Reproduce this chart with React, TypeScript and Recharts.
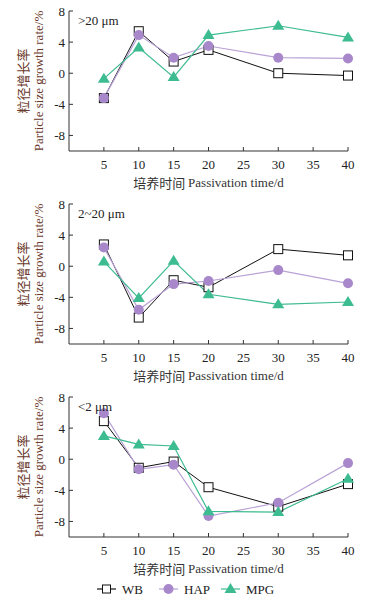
import React from "react";
import { LineChart, Line, XAxis, YAxis } from "recharts";

const days = [5, 10, 15, 20, 30, 40];
const xTicks = [5, 10, 15, 20, 25, 30, 35, 40];
const yTicks = [-8, -4, 0, 4, 8];

const panelLabels = [">20 μm", "2~20 μm", "<2 μm"];

const wbValues = [
  [-3.2, 5.4, 1.5, 3.0, 0.0, -0.3],
  [2.8, -6.6, -1.8, -2.7, 2.2, 1.4],
  [4.9, -1.1, -0.3, -3.6, -6.1, -3.2],
];
const hapValues = [
  [-3.2, 4.9, 2.0, 3.5, 2.0, 1.9],
  [2.4, -5.6, -2.3, -1.9, -0.5, -2.2],
  [5.9, -1.3, -0.7, -7.3, -5.6, -0.5],
];
const mpgValues = [
  [-0.7, 3.3, -0.5, 4.9, 6.1, 4.6],
  [0.6, -4.1, 0.7, -3.6, -4.9, -4.6],
  [3.0, 1.9, 1.7, -6.7, -6.8, -2.5],
];

const FONT = "'Liberation Serif', 'Times New Roman', serif";
const CJK = "'Noto Sans CJK SC', 'Liberation Serif', serif";
const AXIS = "#333";
const PURPLE = "#A888CA";
const PURPLE_LINE = "#B9A2D6";
const GREEN = "#3DBB91";

const YTick = (props: any) => {
  const { x, y, payload } = props;
  return (
    <g>
      <line x1={x + 4} x2={x + 8} y1={y} y2={y} stroke={AXIS} />
      <text x={x} y={y} dy="0.35em" textAnchor="end" fontSize={13} fontFamily={FONT} fill="#222">
        {payload.value}
      </text>
    </g>
  );
};

const XTick = (props: any) => {
  const { x, y, payload } = props;
  return (
    <g>
      <line x1={x} x2={x} y1={y - 8} y2={y - 12} stroke={AXIS} />
      <text x={x} y={y} dy="0.75em" textAnchor="middle" fontSize={13} fontFamily={FONT} fill="#222">
        {payload.value}
      </text>
    </g>
  );
};

const YLabel = (props: any) => {
  const vb = props.viewBox;
  const cy = vb.y + vb.height / 2;
  return (
    <g fill="#6b3a2c">
      <text x={22} y={cy} transform={`rotate(-90 22 ${cy})`} textAnchor="middle" dominantBaseline="central" fontSize={13} fontFamily={CJK}>
        粒径增长率
      </text>
      <text x={38} y={cy} transform={`rotate(-90 38 ${cy})`} textAnchor="middle" dominantBaseline="central" fontSize={13} fontFamily={FONT}>
        Particle size growth rate/%
      </text>
    </g>
  );
};

const XLabel = (props: any) => {
  const vb = props.viewBox;
  const cx = vb.x + vb.width / 2;
  return (
    <text x={cx} y={vb.y + 31} textAnchor="middle" dominantBaseline="central" fontSize={13} fill="#333">
      <tspan fontFamily={CJK}>培养时间 </tspan>
      <tspan fontFamily={FONT}>Passivation time/d</tspan>
    </text>
  );
};

const Square = (props: any) => {
  const { cx, cy } = props;
  if (cx == null || cy == null) return null;
  return <rect x={cx - 4.5} y={cy - 4.5} width={9} height={9} fill="#fff" stroke="#111" strokeWidth={1} />;
};

const Circle = (props: any) => {
  const { cx, cy } = props;
  if (cx == null || cy == null) return null;
  return <circle cx={cx} cy={cy} r={5} fill={PURPLE} />;
};

const Triangle = (props: any) => {
  const { cx, cy } = props;
  if (cx == null || cy == null) return null;
  return <polygon points={`${cx},${cy - 6} ${cx - 6},${cy + 4} ${cx + 6},${cy + 4}`} fill={GREEN} />;
};

const LegendRow = () => {
  const items = [
    { name: "WB", color: "#111", icon: <rect x={-4} y={-4} width={8} height={8} fill="#fff" stroke="#111" /> },
    { name: "HAP", color: PURPLE_LINE, icon: <circle r={5} fill={PURPLE} /> },
    { name: "MPG", color: GREEN, icon: <polygon points="0,-6 -6,4 6,4" fill={GREEN} /> },
  ];
  return (
    <svg width={379} height={21} style={{ display: "block" }}>
      {items.map((it, i) => {
        const x0 = 97 + i * 62;
        return (
          <g key={it.name}>
            <line x1={x0} x2={x0 + 19} y1={10} y2={10} stroke={it.color} strokeWidth={1.2} />
            <g transform={`translate(${x0 + 9.5},10)`}>{it.icon}</g>
            <text x={x0 + 25} y={10} dy="0.35em" fontSize={13} fontFamily={FONT} fill="#222">
              {it.name}
            </text>
          </g>
        );
      })}
    </svg>
  );
};

function Panel({ idx }: { idx: number }) {
  const data = days.map((d, i) => ({
    day: d,
    WB: wbValues[idx][i],
    HAP: hapValues[idx][i],
    MPG: mpgValues[idx][i],
  }));
  return (
    <div style={{ position: "relative", width: 379, height: 193 }}>
      <LineChart width={379} height={193} data={data} margin={{ top: 11, right: 31, bottom: 12, left: 0 }}>
        <XAxis
          dataKey="day"
          type="number"
          domain={[0, 40]}
          ticks={xTicks}
          height={30}
          tickSize={0}
          tickMargin={8}
          tick={<XTick />}
          stroke={AXIS}
          label={<XLabel />}
        />
        <YAxis
          type="number"
          domain={[-10, 8]}
          ticks={yTicks}
          width={69}
          tickSize={0}
          tickMargin={4}
          tick={<YTick />}
          stroke={AXIS}
          label={<YLabel />}
        />
        <Line dataKey="WB" stroke="#111" strokeWidth={1} dot={<Square />} isAnimationActive={false} />
        <Line dataKey="HAP" stroke={PURPLE_LINE} strokeWidth={1.2} dot={<Circle />} isAnimationActive={false} />
        <Line dataKey="MPG" stroke={GREEN} strokeWidth={1.2} dot={<Triangle />} isAnimationActive={false} />
      </LineChart>
      <div
        style={{
          position: "absolute",
          left: 78,
          top: 13,
          fontFamily: FONT,
          fontSize: 13,
          color: "#222",
        }}
      >
        {panelLabels[idx]}
      </div>
    </div>
  );
}

export default function App() {
  return (
    <div style={{ position: "absolute", left: 0, top: 0, width: 379, height: 600, background: "#fff" }}>
      <Panel idx={0} />
      <Panel idx={1} />
      <Panel idx={2} />
      <LegendRow />
    </div>
  );
}
